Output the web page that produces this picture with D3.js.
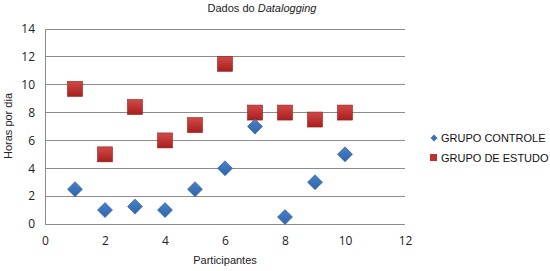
<!DOCTYPE html>
<html>
<head>
<meta charset="utf-8">
<script src="https://cdn.jsdelivr.net/npm/d3@7"></script>
<style>
  html, body { margin: 0; padding: 0; background: #fff; }
  svg { display: block; }
</style>
</head>
<body>
<svg id="chart" width="550" height="271"></svg>
<script>
const participants = [1, 2, 3, 4, 5, 6, 7, 8, 9, 10];
const controle = [2.5, 1, 1.25, 1, 2.5, 4, 7, 0.5, 3, 5];
const estudo = [9.7, 5, 8.4, 6, 7.1, 11.5, 8, 8, 7.5, 8];
const xTicks = [0, 2, 4, 6, 8, 10, 12];
const yTicks = [0, 2, 4, 6, 8, 10, 12, 14];
const seriesNames = ["GRUPO CONTROLE", "GRUPO DE ESTUDO"];

const svg = d3.select("#chart");
const x = d3.scaleLinear().domain([0, 12]).range([45, 405]);
const y = d3.scaleLinear().domain([0, 14]).range([224, 29]);

const defs = svg.append("defs");
const gr = defs.append("linearGradient").attr("id", "redg").attr("x1", 0).attr("y1", 0).attr("x2", 0).attr("y2", 1);
gr.append("stop").attr("offset", "0%").attr("stop-color", "#d04a48");
gr.append("stop").attr("offset", "100%").attr("stop-color", "#a81e1d");
const gb = defs.append("linearGradient").attr("id", "blueg").attr("x1", 0).attr("y1", 0).attr("x2", 0).attr("y2", 1);
gb.append("stop").attr("offset", "0%").attr("stop-color", "#4a82c8");
gb.append("stop").attr("offset", "100%").attr("stop-color", "#2f64a8");

// gridlines
svg.append("g")
  .selectAll("line")
  .data(yTicks)
  .join("line")
  .attr("x1", x(0)).attr("x2", x(12))
  .attr("y1", d => y(d)).attr("y2", d => y(d))
  .attr("stroke", "#8c8c8c").attr("stroke-width", 1)
  .attr("shape-rendering", "crispEdges");

svg.append("line")
  .attr("x1", x(0)).attr("x2", x(0))
  .attr("y1", y(0)).attr("y2", y(14))
  .attr("stroke", "#8c8c8c").attr("shape-rendering", "crispEdges");

const tickFont = "Open Sans, Liberation Sans, sans-serif";

svg.append("g")
  .attr("transform", `translate(${x(0)},0)`)
  .call(d3.axisLeft(y).tickValues(yTicks).tickSize(0).tickPadding(10))
  .call(g => g.select(".domain").remove())
  .selectAll("text")
  .attr("font-size", "12px")
  .attr("font-family", tickFont)
  .attr("fill", "#222");

svg.append("g")
  .attr("transform", `translate(0,${y(0)})`)
  .call(d3.axisBottom(x).tickValues(xTicks).tickSize(0).tickPadding(12))
  .call(g => g.select(".domain").remove())
  .selectAll("text")
  .attr("font-size", "12px")
  .attr("font-family", tickFont)
  .attr("fill", "#222");

// markers
const sq = 15;
svg.append("g")
  .selectAll("rect")
  .data(participants.map((p, i) => ({ x: p, y: estudo[i] })))
  .join("rect")
  .attr("x", d => x(d.x) - sq / 2)
  .attr("y", d => y(d.y) - sq / 2)
  .attr("width", sq).attr("height", sq)
  .attr("fill", "url(#redg)")
  .attr("stroke", "#9a1f1e").attr("stroke-width", 0.6);

const dm = 7.5;
svg.append("g")
  .selectAll("path")
  .data(participants.map((p, i) => ({ x: p, y: controle[i] })))
  .join("path")
  .attr("d", d => `M${x(d.x)},${y(d.y) - dm} L${x(d.x) + dm},${y(d.y)} L${x(d.x)},${y(d.y) + dm} L${x(d.x) - dm},${y(d.y)} Z`)
  .attr("fill", "url(#blueg)")
  .attr("stroke", "#2c5d9c").attr("stroke-width", 0.6);

// title
const title = svg.append("text")
  .attr("x", 262).attr("y", 12)
  .attr("text-anchor", "middle")
  .attr("font-family", "Liberation Sans, Arial, sans-serif")
  .attr("font-size", "11px").attr("fill", "#222");
title.append("tspan").text("Dados do ");
title.append("tspan").attr("font-style", "italic").text("Datalogging");

// axis titles
svg.append("text")
  .attr("x", 225).attr("y", 264)
  .attr("text-anchor", "middle")
  .attr("font-family", "Liberation Sans, Arial, sans-serif")
  .attr("font-size", "11px").attr("fill", "#222")
  .text("Participantes");

svg.append("text")
  .attr("transform", "translate(12,126) rotate(-90)")
  .attr("text-anchor", "middle")
  .attr("font-family", "Liberation Sans, Arial, sans-serif")
  .attr("font-size", "11px").attr("fill", "#222")
  .text("Horas por dia");

// legend
const legend = svg.append("g").attr("font-family", "Liberation Sans, Arial, sans-serif")
  .attr("font-size", "11px").attr("fill", "#111");
legend.append("path")
  .attr("d", "M434,134.5 L437.5,138 L434,141.5 L430.5,138 Z")
  .attr("fill", "#3a70b6");
legend.append("rect")
  .attr("x", 430).attr("y", 154).attr("width", 7).attr("height", 7)
  .attr("fill", "#c0302f");
legend.selectAll("text.lg")
  .data(seriesNames)
  .join("text")
  .attr("class", "lg")
  .attr("x", 441)
  .attr("y", (d, i) => 142 + i * 20)
  .text(d => d);
</script>
</body>
</html>
